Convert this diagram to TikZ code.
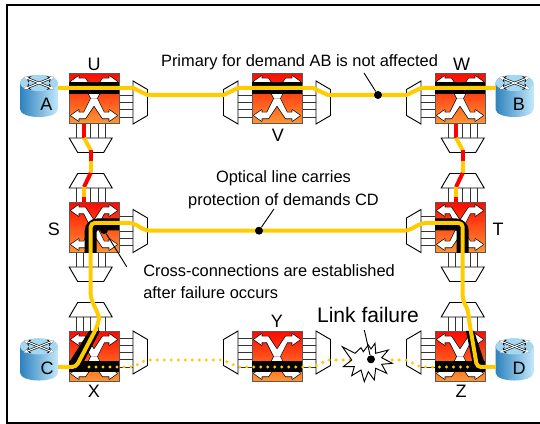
\documentclass[tikz,border=0pt]{standalone}
\usepackage{fontspec}
\setmainfont{Liberation Sans}
\usetikzlibrary{calc,arrows.meta}
\definecolor{lightyellow}{RGB}{255,204,0}
\definecolor{boxred}{RGB}{255,10,0}
\definecolor{boxorange}{RGB}{255,150,50}
\definecolor{routerdark}{RGB}{45,130,190}
\definecolor{routerlight}{RGB}{195,232,250}
\definecolor{routertop}{RGB}{165,215,240}
\newcommand\armpath{(0,-7) -- (-8.7,-20) -- (-15.3,-20) -- (-15.3,-22.5) -- (-23,-17) -- (-15.3,-11.5) -- (-15.3,-14) -- (-10,-14) -- (-3,0) -- (0,0) -- cycle}
\tikzset{
  crossarms/.pic={
    \foreach \sx/\sy in {1/1,-1/1,1/-1,-1/-1}
      \draw[black, line width=1pt, line join=round, xscale=\sx, yscale=\sy] \armpath;
    \foreach \sx/\sy in {1/1,-1/1,1/-1,-1/-1}
      \fill[white, xscale=\sx, yscale=\sy] \armpath;
  },
  portunit/.pic={
    \foreach \yy in {-14.5,-7.25,0,7.25,14.5}
      \draw[black!80, line width=.6pt] (0,\yy) -- (14,\yy);
    \draw[black, fill=white, line width=.7pt] (14,-21.5) -- (28.5,-13) -- (28.5,13) -- (14,21.5) -- cycle;
  },
  routerbody/.pic={
    \shade[left color=routerdark, right color=routerlight]
      (-19,-13) -- (-19,13) .. controls (-19,23.7) and (19,23.7) .. (19,13)
      -- (19,-13) .. controls (19,-23.7) and (-19,-23.7) .. (-19,-13) -- cycle;
    \fill[routertop] (0,-13) ellipse [x radius=14.25pt, y radius=6pt];
    \foreach \sx/\sy in {-15/-19, 15/-7, -15/-7, 15/-19}
      \draw[black, line width=1.7pt, -{Stealth[length=5pt,width=5pt]}] (0,-13) -- (\sx,\sy);
    \foreach \sx/\sy in {-15/-19, 15/-7, -15/-7, 15/-19}
      \draw[white, line width=.8pt, -{Stealth[length=3.6pt,width=3.4pt]}] (0,-13) -- (\sx,\sy);
  }
}
\begin{document}
\begin{tikzpicture}[x=.75pt, y=-.75pt,
   oxc/.style={draw=black!65, line width=.6pt, minimum size=37.5pt, inner sep=0pt,
     top color=boxred, bottom color=boxorange},
   lightpath/.style={draw=lightyellow, line width=3pt},
   lostpath/.style={draw=lightyellow, line width=2.5pt, line cap=round, dash pattern=on 0pt off 5.25pt},
   redpath/.style={draw=red, line width=3pt},
   labeltext/.style={font=\fontsize{13.5pt}{15pt}\selectfont, inner sep=0pt},
   notetext/.style={font=\fontsize{12.3pt}{16pt}\selectfont, inner sep=0pt},
   pointdot/.style={circle, fill=black, inner sep=0pt, minimum size=6pt},
   leader/.style={draw=black, line width=.7pt}]

\path[use as bounding box, fill=white] (0,0) rectangle (540,424);
\draw[line width=1.5pt] (550,5) -- (6.5,5) -- (6.5,423) -- (550,423);

% fibre ports
\foreach \xx/\yy/\ang in {119/102.5/0, 252/102.5/180, 302/102.5/0, 435/102.5/180,
    90.7/124/-90, 462.7/124/-90, 90.7/202/90, 462.7/202/90,
    90.7/253/-90, 462.7/253/-90, 119/231/0, 435/231/180,
    90.7/331/90, 462.7/331/90, 119/352.5/0, 252/352.5/180, 302/352.5/0, 435/352.5/180}
  \pic[rotate=\ang] at (\xx,\yy) {portunit};

% switches
\foreach \name/\xx/\yy in {U/94/98.5, V/277/98.5, W/460/98.5, S/94/227.5, T/460/227.5,
    X/94/356.5, Y/277/356.5, Z/460/356.5} {
  \node[oxc] (\name) at (\xx,\yy) {};
  \pic at (\name) {crossarms};
}

% routers
\foreach \xx/\yy in {39/96, 514.5/96, 39/359.5, 514.5/359.5}
  \pic at (\xx,\yy) {routerbody};
\node[labeltext] (A) at (46.5,104) {A};
\node[labeltext] (B) at (519,104) {B};
\node[labeltext] (C) at (47,368) {C};
\node[labeltext] (D) at (519,368) {D};

% cross-connections in use
\foreach \name in {U,V,W}
  \fill ($(\name.west)+(0,-16.5)$) rectangle ($(\name.east)+(0,-4.5)$);
\foreach \name in {X,Y,Z}
  \fill ($(\name.west)+(0,4.5)$) rectangle ($(\name.east)+(0,15.5)$);
\draw[line width=9pt, rounded corners=5pt] (90.7,253) -- (90.7,224.5) -- (119,224.5);
\draw[line width=9pt, rounded corners=5pt] (462.7,253) -- (462.7,224.5) -- (435,224.5);
\fill (89,331) -- (100,331) -- (81,367) -- (70,361) -- cycle;
\fill (466,331) -- (474,331) -- (484,361) -- (484,372) -- (473,365) -- cycle;

\coordinate (Aout) at (58,88);
\coordinate (Bout) at (495.7,88);
\coordinate (Cout) at (58,367);
\coordinate (Dout) at (495.7,367);

% primary of AB
\draw[lightpath] (Aout) -- (133,88) -- (147.7,95) -- (223.5,95) -- (238,88) -- (313,88)
   -- (328,95) -- (406.5,95) -- (421,88) -- (Bout);

% demand CD after the failure
\draw[lightpath, rounded corners=3pt] (Cout) -- (76,367) -- (96,329) -- (99,320) -- (99,316)
   -- (90.7,298) -- (90.7,223) -- (133,223) -- (146,230.7) -- (408,230.7) -- (422,223)
   -- (462.7,223) -- (462.7,300) -- (468,310) -- (469,320) -- (477,367) -- (Dout);

% lost path
\draw[lostpath] (89,367) -- (133,367) -- (146,360) -- (223,360) -- (238,367) -- (313,367)
   -- (328,360) -- (406,360) -- (421,367) -- (471,367);

% red and yellow fibres between the rows
\draw[redpath] (84,124) -- (84,138);
\draw[lightpath] (84,138) -- (90.7,150);
\draw[redpath] (90.7,150) -- (90.7,161);
\draw[lightpath] (90.7,161) -- (90.7,173);
\draw[redpath] (90.7,173) -- (84,187);
\draw[lightpath] (84,187) -- (84,197);
\draw[redpath] (84,197) -- (84,202);
\draw[redpath] (456,124) -- (456,138);
\draw[lightpath] (456,138) -- (462.7,150);
\draw[redpath] (462.7,150) -- (462.7,161);
\draw[lightpath] (462.7,161) -- (462.7,173);
\draw[redpath] (462.7,173) -- (456,187);
\draw[lightpath] (456,187) -- (456,197);
\draw[redpath] (456,197) -- (456,202);

% failure mark
\draw[fill=white, line width=.7pt, line join=miter] (342.3,346.7) -- (355,353.3) -- (361,347.7) -- (363.3,351.7)
   -- (368.3,345) -- (371,349) -- (375,343.3) -- (375.7,353.3) -- (388.3,350) -- (381.7,357.7)
   -- (392.3,363.3) -- (381.7,364.3) -- (386.7,373.3) -- (375.7,368.3) -- (374.3,380)
   -- (368.3,371.7) -- (364.3,381.7) -- (361,370) -- (351.7,375.7) -- (354.3,366.7)
   -- (343.3,366.7) -- (351.7,360) -- cycle;

% dots and their leaders
\node[pointdot] (dotAB) at (378,95) {};
\node[pointdot] (dotCD) at (259,230.7) {};
\node[pointdot] (dotcross) at (104,230) {};
\node[pointdot] (dotfail) at (371,359.3) {};
\coordinate (tipAB) at (364,73);
\coordinate (tipCD) at (274,209);
\coordinate (tipcross) at (126.7,266.7);
\coordinate (tipfail) at (364.3,330);
\draw[leader] (tipAB) -- (dotAB);
\draw[leader] (tipCD) -- (dotCD);
\draw[leader] (tipcross) -- (dotcross);
\draw[leader] (tipfail) -- (dotfail);

% labels
\node[labeltext] (labU) at (94,64) {U};
\node[labeltext] (labV) at (278,135) {V};
\node[labeltext] (labW) at (461.7,64) {W};
\node[labeltext] (labS) at (54,229) {S};
\node[labeltext] (labT) at (498,229) {T};
\node[labeltext] (labX) at (94,391) {X};
\node[labeltext] (labY) at (277,321.7) {Y};
\node[labeltext] (labZ) at (461,391) {Z};
\node[notetext] (primary) at (299.5,62) {Primary for demand AB is not affected};
\node[notetext, align=center, font=\fontsize{12.3pt}{17pt}\selectfont] (optical) at (283.5,189.5) {Optical line carries\\protection of demands CD};
\node[notetext, align=left, anchor=west] (cross) at (143,281.5) {Cross-connections are established\\after failure occurs};
\node[font=\fontsize{15.8pt}{18pt}\selectfont, inner sep=0pt] (linkfail) at (368,315) {Link failure};

\end{tikzpicture}
\end{document}
